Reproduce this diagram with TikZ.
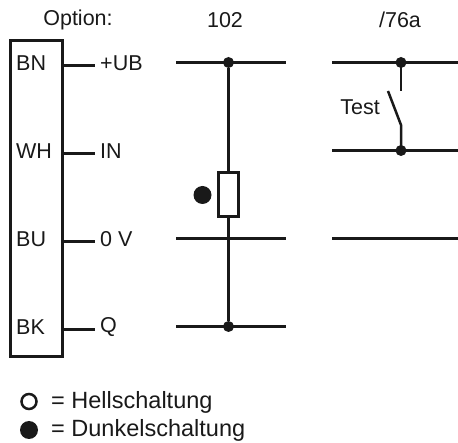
\documentclass[tikz,border=0pt]{standalone}
\usepackage{fontspec}
\setmainfont{Liberation Sans}
\usetikzlibrary{positioning,calc}
\tikzset{
  wire/.style={line width=2.5pt,black!90!white},
  lbl/.style={font=\fontsize{21.5}{24}\selectfont,inner sep=0pt,text=black!90!white},
  legendlbl/.style={font=\fontsize{23.5}{26}\selectfont,inner sep=0pt,text=black!90!white},
  pinlbl/.style={lbl,inner xsep=5pt,yshift=2pt},
  dot/.style={circle,fill=black!90!white,inner sep=0pt,minimum size=11pt},
  bigdot/.style={circle,fill=black!90!white,inner sep=0pt,minimum size=#1},
  opendot/.style={circle,draw=black!90!white,line width=2.5pt,fill=white,inner sep=0pt,minimum size=15pt},
}
\begin{document}
\begin{tikzpicture}[x=1pt,y=-1pt]
        \useasboundingbox (0,0) rectangle (458,443);

        % header
        \node[lbl] (option) at (78,20) {Option:};
        \node[lbl] (head102) at (225,20) {102};
        \node[lbl] (head76a) at (400,20) {/76a};

        % connector block
        \node (conn) [draw,wire,fill=white,minimum width=52pt,minimum height=316pt,inner sep=0pt,outer sep=0pt,anchor=north west] at (10.5,40.5) {};
        \node[lbl,anchor=base west] (bn) at (16,70.5) {BN};
        \node[lbl,anchor=base west] (wh) at (16,158.5) {WH};
        \node[lbl,anchor=base west] (bu) at (16,246.5) {BU};
        \node[lbl,anchor=base west] (bk) at (16,334.5) {BK};

        \coordinate (ubpin) at (95,65.5);
        \coordinate (inpin) at (95,153.5);
        \coordinate (ovpin) at (95,241.5);
        \coordinate (qpin) at (95,329.5);
        \node[pinlbl,right=0 of ubpin] (ub) {+UB};
        \node[pinlbl,right=0 of inpin] (in) {IN};
        \node[pinlbl,right=0 of ovpin] (ov) {0 V};
        \node[pinlbl,right=0 of qpin] (q) {Q};
        \draw[wire] (conn.east |- ubpin) -- (ubpin);
        \draw[wire] (conn.east |- inpin) -- (inpin);
        \draw[wire] (conn.east |- ovpin) -- (ovpin);
        \draw[wire] (conn.east |- qpin) -- (qpin);

        % option 102
        \coordinate (ua) at (176,62.5);
        \coordinate (ub2) at (286,62.5);
        \coordinate (va) at (176,238.5);
        \coordinate (vb) at (286,238.5);
        \coordinate (qa) at (176,326.5);
        \coordinate (qb) at (286,326.5);
        \node[dot] (top) at (228.5,62.5) {};
        \node[dot] (bot) at (228.5,326.5) {};
        \draw[wire] (ua) -- (ub2);
        \draw[wire] (va) -- (vb);
        \draw[wire] (qa) -- (qb);
        \draw[wire] (top) -- (bot);
        \node (res) [draw,wire,fill=white,minimum width=20pt,minimum height=44pt,inner sep=0pt] at (228.5,194.5) {};
        \node[bigdot=18pt] (mark) at (202.5,195) {};

        % option 76a
        \coordinate (ra) at (332,62.5);
        \coordinate (rb) at (458,62.5);
        \coordinate (sa) at (332,150.5);
        \coordinate (sb) at (458,150.5);
        \coordinate (ta) at (332,238.5);
        \coordinate (tb) at (458,238.5);
        \draw[wire] (ra) -- (rb);
        \draw[wire] (sa) -- (sb);
        \draw[wire] (ta) -- (tb);
        \node[dot] (swtop) at (401,62.5) {};
        \node[dot] (swbot) at (401,150.5) {};
        \coordinate (contact) at (401,91);
        \coordinate (blade) at (388,91);
        \coordinate (hinge) at (401,125);
        \draw[wire] (swtop.center) -- (contact);
        \draw[wire] (blade) -- (hinge) -- (swbot.center);
        \node[lbl] (test) at (360,107) {Test};

        % legend
        \node[opendot] (hell) at (29,401.5) {};
        \node[bigdot=18pt] (dunkel) at (29,430) {};
        \node[legendlbl,anchor=base west] (helltxt) at (51,408.5) {= Hellschaltung};
        \node[legendlbl,anchor=base west] (dunkeltxt) at (51,437) {= Dunkelschaltung};
\end{tikzpicture}
\end{document}
